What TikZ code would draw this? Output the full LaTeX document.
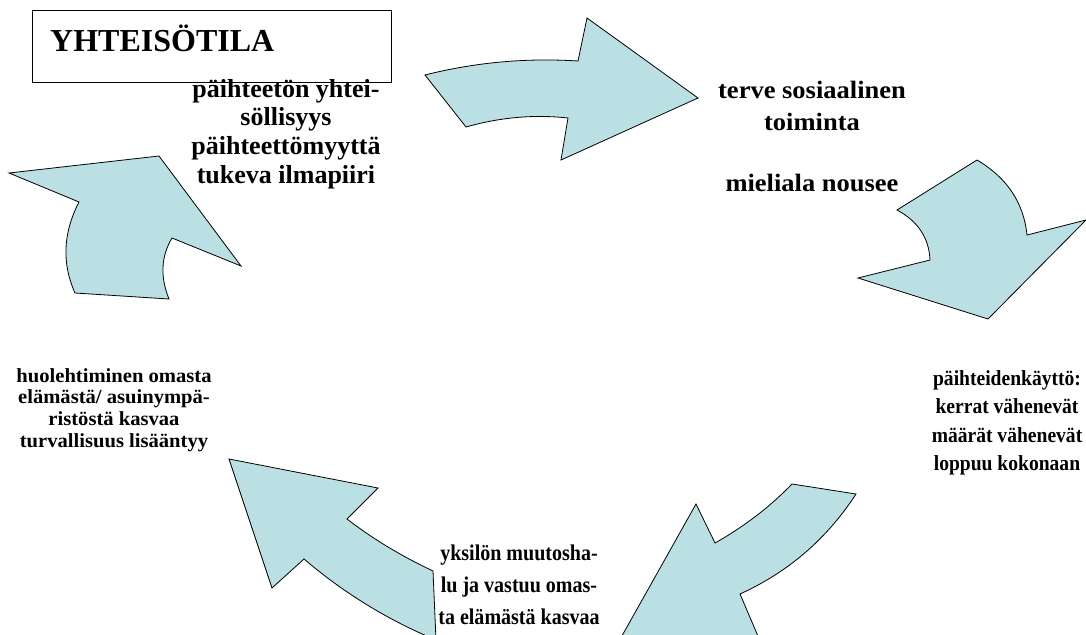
\documentclass[tikz,border=0pt]{standalone}
\usepackage{fontspec}
\usepackage{graphicx}
\setmainfont{Liberation Serif}
\definecolor{arrowfill}{RGB}{187,224,227}
\newcommand\txtblock[4]{{\fontsize{#1}{#2}\selectfont\bfseries\scalebox{#3}[1]{\begin{tabular}[t]{@{}c@{}}#4\end{tabular}}}}
\tikzset{
  cyclearrow/.style={fill=arrowfill, draw=black, line width=0.8pt, line join=miter},
  lbl/.style={inner sep=0pt, anchor=base},
  titlebox/.style={draw=black, line width=0.9pt, fill=white, inner sep=0pt, anchor=north west}
}
\begin{document}
\begin{tikzpicture}[x=1pt,y=-1pt]
\useasboundingbox (0,0) rectangle (1086,634);
\begin{scope}
\clip (0,0) rectangle (1086,634);
% arrow 1 (top)
\path[cyclearrow] (425,75) .. controls (475.3,62.3) and (526.3,57.7) .. (578,61) -- (587,18) -- (698,98) -- (561,160) -- (568,118)
  .. controls (534,114.3) and (500,117.3) .. (466,127) -- cycle;
% arrow 2 (right)
\path[cyclearrow] (977,160) -- (897,210) .. controls (918,221.3) and (929,238) .. (930,260) -- (858,278) -- (988,319) -- (1086,220) -- (1027,235)
  .. controls (1023.7,202.7) and (1007,177.7) .. cycle;
% arrow 3 (bottom right)
\path[cyclearrow] (792,484) -- (856,494) .. controls (827,538.7) and (788.4,572) .. (740,594) -- (775,676) -- (600,675) -- (696,504) -- (715,543)
  .. controls (744,526.7) and (769.7,507) .. cycle;
% arrow 4 (bottom left)
\path[cyclearrow] (229,459) -- (378,488) -- (347,519) .. controls (373,539) and (401.7,556.3) .. (433,571) -- (436,640)
  .. controls (387.7,619.9) and (343.7,592.9) .. (304,559) -- (272,588) -- cycle;
% arrow 5 (left)
\path[cyclearrow] (75,293) -- (169,299) .. controls (160,276.7) and (161,256.3) .. (172,238) -- (241,266) -- (159,156) -- (9,173) -- (79,202)
  .. controls (63,233) and (61.7,263.3) .. cycle;
\end{scope}
% title
\node[titlebox, minimum width=359pt, minimum height=72pt] (box) at (32,10) {};
\node[inner sep=0pt, anchor=base west, font=\fontsize{32}{36}\selectfont\bfseries] (title) at (50,52) {YHTEISÖTILA};
% texts
\node[lbl] (tl) at (286,97) {\txtblock{26}{28.7}{1}{päihteetön yhtei-\\söllisyys\\päihteettömyyttä\\tukeva ilmapiiri}};
\node[lbl] (tr) at (812,98) {\txtblock{25}{32}{1.06}{terve sosiaalinen\\toiminta\\[29pt]mieliala nousee}};
\node[lbl] (rt) at (1007,385) {\txtblock{21.5}{28.5}{0.91}{päihteidenkäyttö:\\kerrat vähenevät\\määrät vähenevät\\loppuu kokonaan}};
\node[lbl] (bt) at (519,560) {\txtblock{22.5}{32}{0.89}{yksilön muutosha-\\lu ja vastuu omas-\\ta elämästä kasvaa}};
\node[lbl] (lt) at (114,382) {\txtblock{20}{21.7}{1.03}{huolehtiminen omasta\\elämästä/ asuinympä-\\ristöstä kasvaa\\turvallisuus lisääntyy}};
\end{tikzpicture}
\end{document}
